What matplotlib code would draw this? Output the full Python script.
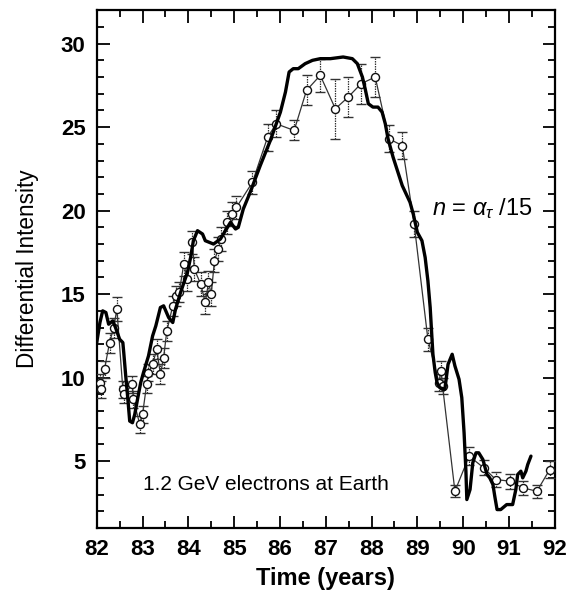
import matplotlib
matplotlib.use("Agg")
import matplotlib.pyplot as plt
from matplotlib.ticker import MultipleLocator

plt.rcParams['font.family'] = ['Liberation Sans', 'DejaVu Sans']
plt.rcParams['mathtext.fontset'] = 'custom'
plt.rcParams['mathtext.rm'] = 'Liberation Sans'
plt.rcParams['mathtext.it'] = 'Liberation Sans:italic'

# Observed data (circles with error bars)
obs_year = [82.07, 82.09, 82.17, 82.28, 82.37, 82.44, 82.57, 82.60, 82.78, 82.80,
            82.94, 83.00, 83.09, 83.13, 83.22, 83.31, 83.39, 83.46, 83.53, 83.66,
            83.72, 83.80, 83.90, 83.98, 84.09, 84.13, 84.27, 84.37, 84.44, 84.50,
            84.57, 84.65, 84.72, 84.85, 84.96, 85.05, 85.40, 85.73, 85.92, 86.31,
            86.58, 86.88, 87.21, 87.49, 87.77, 88.08, 88.38, 88.67, 88.93, 89.23,
            89.47, 89.52, 89.55, 89.82, 90.13, 90.45, 90.71, 91.02, 91.30, 91.61,
            91.89]
obs_val = [9.7, 9.3, 10.5, 12.1, 13.0, 14.1, 9.3, 9.0, 9.6, 8.7,
           7.2, 7.8, 9.6, 10.3, 10.8, 11.7, 10.2, 11.2, 12.8, 14.3,
           14.9, 15.1, 16.8, 15.9, 18.1, 16.5, 15.6, 14.5, 15.7, 15.0,
           17.0, 17.7, 18.3, 19.3, 19.8, 20.2, 21.7, 24.4, 25.2, 24.8,
           27.2, 28.1, 26.1, 26.8, 27.6, 28.0, 24.3, 23.9, 19.2, 12.3,
           9.7, 10.4, 9.5, 3.2, 5.3, 4.6, 3.9, 3.8, 3.4, 3.2,
           4.5]
obs_err = [0.5, 0.5, 0.5, 0.6, 0.6, 0.7, 0.5, 0.5, 0.5, 0.5,
           0.5, 0.5, 0.5, 0.5, 0.6, 0.6, 0.6, 0.6, 0.6, 0.6,
           0.6, 0.6, 0.7, 0.7, 0.7, 0.7, 0.7, 0.7, 0.7, 0.7,
           0.7, 0.7, 0.7, 0.7, 0.7, 0.7, 0.7, 0.8, 0.8, 0.6,
           0.9, 1.0, 1.8, 1.2, 1.2, 1.2, 0.8, 0.8, 0.8, 0.7,
           0.5, 0.6, 0.5, 0.35, 0.55, 0.45, 0.45, 0.45, 0.4, 0.4,
           0.5]

# Model curve (thick line)
model_year = [82.00, 82.07, 82.13, 82.20, 82.26, 82.35, 82.41, 82.50, 82.57, 82.59,
              82.63, 82.68, 82.72, 82.78, 82.83, 82.89, 82.96, 83.02, 83.13, 83.22,
              83.29, 83.39, 83.46, 83.57, 83.66, 83.72, 83.83, 83.98, 84.05, 84.11,
              84.20, 84.31, 84.37, 84.55, 84.70, 84.92, 85.03, 85.09, 85.20, 85.35,
              85.57, 85.79, 86.01, 86.12, 86.20, 86.29, 86.40, 86.55, 86.71, 86.88,
              87.10, 87.38, 87.58, 87.69, 87.80, 87.86, 87.93, 88.03, 88.14, 88.23,
              88.30, 88.36, 88.47, 88.67, 88.84, 88.91, 89.00, 89.10, 89.17, 89.23,
              89.28, 89.32, 89.34, 89.39, 89.43, 89.49, 89.60, 89.67, 89.76, 89.82,
              89.91, 89.97, 90.02, 90.06, 90.08, 90.15, 90.21, 90.28, 90.34, 90.43,
              90.52, 90.58, 90.65, 90.69, 90.74, 90.82, 90.95, 91.08, 91.15, 91.19,
              91.26, 91.30, 91.37, 91.41, 91.48]
model_val = [12.1, 13.3, 14.0, 13.9, 13.2, 13.4, 13.0, 12.3, 12.1, 11.5,
             10.2, 8.7, 7.4, 7.3, 7.8, 8.7, 9.7, 10.3, 11.3, 12.5,
             13.1, 14.2, 14.3, 13.6, 13.3, 14.1, 15.1, 16.3, 17.2, 18.2,
             18.8, 18.6, 18.2, 18.0, 18.3, 19.3, 18.9, 19.0, 20.1, 21.1,
             22.7, 24.2, 25.9, 27.1, 28.3, 28.5, 28.5, 28.8, 29.0, 29.1,
             29.1, 29.2, 29.1, 28.8, 28.0, 27.3, 26.4, 26.2, 26.2, 25.9,
             25.2, 24.3, 23.2, 21.5, 20.5, 19.8, 18.7, 18.2, 17.2, 15.8,
             14.2, 12.3, 11.4, 10.3, 9.7, 9.4, 9.3, 10.8, 11.4, 10.7,
             9.9, 8.8, 6.7, 4.4, 2.7, 3.3, 4.9, 5.5, 5.5, 5.1,
             4.2, 4.0, 3.6, 2.9, 2.1, 2.1, 2.4, 2.4, 3.3, 4.2,
             4.4, 4.0, 4.4, 4.8, 5.3]

x_ticks = [82, 83, 84, 85, 86, 87, 88, 89, 90, 91, 92]
y_ticks = [5, 10, 15, 20, 25, 30]

fig = plt.figure(figsize=(5.69, 6.02), dpi=100)
ax = fig.add_axes([0.170, 0.123, 0.805, 0.860])

# observations
eb = ax.errorbar(obs_year, obs_val, yerr=obs_err, fmt='o', color='#222222',
                 markerfacecolor='white', markeredgecolor='#111111', markersize=5.8,
                 markeredgewidth=1.0, elinewidth=0.9, capsize=3.5, capthick=0.9,
                 ecolor='#333333', zorder=3)
for lc in eb[2]:
    lc.set_linestyle((0, (1.2, 0.8)))
ax.plot(obs_year, obs_val, color='#333333', lw=0.9, zorder=2)

# model
ax.plot(model_year, model_val, color='black', lw=2.4, zorder=4,
        solid_joinstyle='round', solid_capstyle='round')

ax.set_xlim(82, 92)
ax.set_ylim(1, 32)
ax.set_xticks(x_ticks)
ax.set_yticks(y_ticks)
ax.xaxis.set_minor_locator(MultipleLocator(0.5))
ax.yaxis.set_minor_locator(MultipleLocator(1))
ax.tick_params(which='both', direction='in', top=True, right=True, width=1.3)
ax.tick_params(which='major', length=9, pad=8, labelsize=16)
ax.tick_params(which='minor', length=5)
for lab in ax.get_xticklabels() + ax.get_yticklabels():
    lab.set_fontweight('bold')
for s in ax.spines.values():
    s.set_linewidth(1.6)

ax.set_xlabel('Time (years)', fontsize=17, fontweight='bold', labelpad=5)
ax.set_ylabel('Differential Intensity', fontsize=16.3, labelpad=16)

ax.text(89.33, 20.1, r'$n$ = $\alpha_{\tau}$ /15', fontsize=17, va='center', ha='left')
ax.text(83.02, 3.6, '1.2 GeV electrons at Earth', fontsize=15, va='center', ha='left')

fig.savefig('out.png', dpi=100)
